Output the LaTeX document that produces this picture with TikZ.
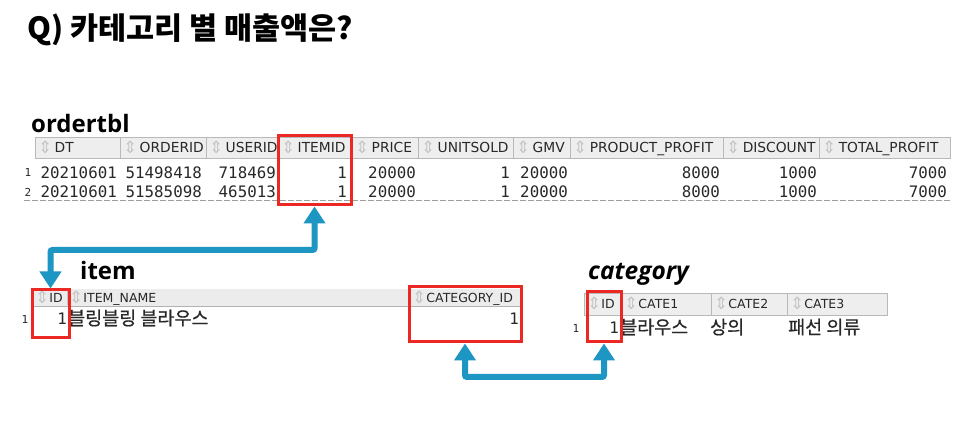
\documentclass[tikz,border=0pt]{standalone}
\usepackage{fontspec}
\usetikzlibrary{arrows.meta}
\setmainfont{DejaVu Sans}
\newfontfamily\kr{Noto Sans CJK KR}
\newfontfamily\krd{Noto Sans CJK KR}[FakeBold=0.6]
\newfontfamily\lbl{Open Sans}
\newfontfamily\mono{DejaVu Sans Mono}
\newfontfamily\dv{DejaVu Sans}
\definecolor{boxred}{RGB}{235,40,35}
\definecolor{arrblue}{RGB}{30,150,195}
\definecolor{txt}{RGB}{40,40,40}
\newcommand\ic{{\dv\color{gray!45}\fontsize{17}{12}\selectfont\raisebox{-1pt}{⇕}}}
\tikzset{
  hbox/.style={draw=gray!55, fill=gray!13, line width=0.8pt},
  hbar/.style={fill=gray!15},
  htxt/.style={anchor=base west, inner sep=0pt, text=txt, font=\dv\fontsize{13.8}{14}\selectfont},
  htxts/.style={anchor=base west, inner sep=0pt, text=txt, font=\dv\fontsize{12.5}{13}\selectfont},
  dat/.style={anchor=base east, inner sep=0pt, text=txt, font=\mono\fontsize{15.8}{16}\selectfont},
  kdat/.style={anchor=base west, inner sep=0pt, text=txt, font=\krd\fontsize{18.5}{19}\selectfont},
  idx/.style={anchor=base, inner sep=0pt, text=txt, font=\mono\fontsize{11}{11}\selectfont},
  tlabel/.style={anchor=base west, inner sep=0pt, text=black, font=\lbl\bfseries\fontsize{24}{26}\selectfont},
  redbox/.style={draw=boxred, line width=3pt, inner sep=0pt},
  link/.style={draw=arrblue, line width=6pt, rounded corners=2pt,
    {Triangle[width=21pt,length=17pt]}-{Triangle[width=21pt,length=17pt]}},
}
\begin{document}
\begin{tikzpicture}[x=1pt,y=-1pt]
\useasboundingbox (0,0) rectangle (972,435);
\fill[white] (0,0) rectangle (972,435);

% title
\node[anchor=base west, inner sep=0pt, font=\kr\bfseries\fontsize{30.5}{32}\selectfont] (title) at (27,40) {Q) 카테고리 별 매출액은?};

% ---------- ordertbl ----------
\node[tlabel] (lorder) at (31,133) {ordertbl};
\foreach \a/\b/\t [count=\i] in {35/120/DT, 120/206/ORDERID, 206/278/USERID, 278/352/ITEMID, 352/418/PRICE, 418/513/UNITSOLD, 513/570/GMV, 570/723/PRODUCT\_PROFIT, 723/819/DISCOUNT, 819/950/TOTAL\_PROFIT}{
  \draw[hbox] (\a,137) rectangle (\b,158);
  \node[htxt] (oh\i) at (\a+3,152.5) {\ic\,\t};
}
\node[idx] (oi1) at (28,177) {1};
\node[idx] (oi2) at (28,197) {2};
\foreach \x/\v [count=\i] in {117/20210601, 202/51498418, 276/718469, 347/1, 416/20000, 510/1, 568/20000, 720/8000, 817/1000, 947/7000}{
  \node[dat] (ra\i) at (\x,178.5) {\v};
}
\foreach \x/\v [count=\i] in {117/20210601, 202/51585098, 276/465013, 347/1, 416/20000, 510/1, 568/20000, 720/8000, 817/1000, 947/7000}{
  \node[dat] (rb\i) at (\x,198) {\v};
}
\draw[gray!75, line width=0.8pt, dash pattern=on 6pt off 2pt] (24,200.5) -- (950,200.5);

% ---------- item ----------
\node[tlabel] (litem) at (80,280) {item};
\fill[hbar] (32,289) rectangle (521,306);
\draw[gray!60, line width=0.8pt] (32,306) -- (521,306);
\draw[gray!45, line width=0.6pt] (67,290) -- (67,305) (409,290) -- (409,305);
\node[htxts] (ih1) at (35,303) {\ic ID};
\node[htxts] (ih2) at (69,303) {\ic ITEM\_NAME};
\node[htxts] (ih3) at (412,303) {\ic CATEGORY\_ID};
\node[idx] (ii1) at (25,324) {1};
\node[dat] (iv1) at (67,324.5) {1};
\node[kdat] (iv2) at (68,325) {블링블링 블라우스};
\node[dat] (iv3) at (519,324.5) {1};

% ---------- category ----------
\node[tlabel, font=\lbl\bfseries\itshape\fontsize{24.5}{26}\selectfont] (lcat) at (588,280) {category};
\foreach \a/\b/\t [count=\i] in {584/621/ID, 621/711/CATE1, 711/787/CATE2, 787/887/CATE3}{
  \draw[hbox] (\a,293) rectangle (\b,315);
  \node[htxts] (ch\i) at (\a+3,309) {\ic\t};
}
\node[idx] (ci1) at (576,333) {1};
\node[dat] (cv1) at (619,333.5) {1};
\node[kdat] (cv2) at (620,334) {블라우스};
\node[kdat] (cv3) at (710,334) {상의};
\node[kdat] (cv4) at (788,334) {패선 의류};

% ---------- red boxes ----------
\node[redbox, minimum width=73pt, minimum height=69pt] (rb1) at (314.5,170.5) {};
\node[redbox, minimum width=37pt, minimum height=48pt] (rb2) at (50.5,314) {};
\node[redbox, minimum width=112pt, minimum height=55pt] (rb3) at (465,314.5) {};
\node[redbox, minimum width=34pt, minimum height=50pt] (rb4) at (604,317) {};

% ---------- links ----------
\coordinate (bend1) at (0,250);
\coordinate (bend2) at (0,377);
\draw[link] (rb1.south) -- (rb1.south |- bend1) -| (rb2.north);
\draw[link] (rb3.south) -- (rb3.south |- bend2) -| (rb4.south);
\end{tikzpicture}
\end{document}
